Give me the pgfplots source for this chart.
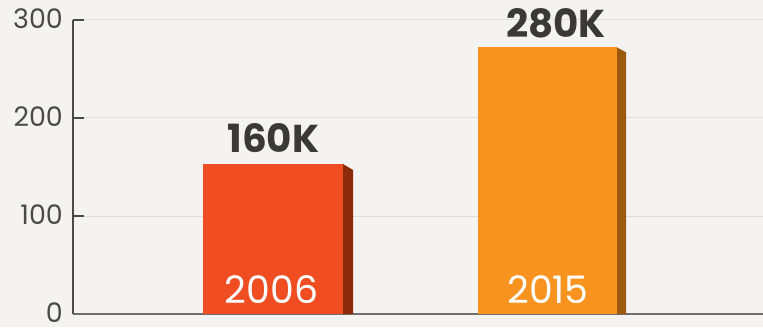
\documentclass[border=0pt]{standalone}
\usepackage{pgfplots}
\pgfplotsset{compat=1.18}
\usepackage{fontspec}
\setmainfont{Poppins}
\definecolor{bg}{HTML}{F4F3F1}
\definecolor{barA}{HTML}{F04E22}
\definecolor{sideA}{HTML}{8E2A0C}
\definecolor{barB}{HTML}{F7931E}
\definecolor{sideB}{HTML}{9B5A0E}
\definecolor{txt}{HTML}{3B3838}
\definecolor{ticktxt}{HTML}{4A4A4A}
\definecolor{gridc}{HTML}{DEDEDC}
\begin{document}
\begin{tikzpicture}[x=1bp,y=1bp]
\fill[bg] (0,0) rectangle (763,327);
\useasboundingbox (0,0) rectangle (763,327);
\begin{axis}[
  at={(73bp,13bp)}, anchor=south west,
  scale only axis, width=690bp, height=294bp,
  xmin=0, xmax=690, ymin=0, ymax=300,
  clip=false,
  axis x line*=bottom, axis y line*=left,
  x axis line style={draw=ticktxt!80, line width=2bp},
  y axis line style={draw=ticktxt, line width=2bp},
  xtick=\empty,
  ytick={0,100,200,300},
  tick align=inside,
  major tick length=11bp,
  tick style={draw=ticktxt, line width=2bp},
  ymajorgrids,
  grid style={draw=gridc, line width=1bp},
  /pgf/number format/assume math mode=true,
  yticklabel style={font=\fontsize{27}{27}\selectfont, color=ticktxt, inner sep=0pt, xshift=-10bp, yshift=1bp},
]
\addplot[ybar, bar width=140, bar shift=0pt, fill=barA, draw=none] coordinates {(200,153)};
\addplot[fill=sideA, draw=none] coordinates {(270,0) (270,153) (280,147) (280,0)};
\addplot[ybar, bar width=139, bar shift=0pt, fill=barB, draw=none] coordinates {(474.5,272)};
\addplot[fill=sideB, draw=none] coordinates {(544,0) (544,272) (553,267) (553,0)};
\node[anchor=base, font=\fontsize{39}{39}\selectfont\bfseries, color=txt, inner sep=0pt] at (axis cs:200.5,165) {160K};
\node[anchor=base, font=\fontsize{39}{39}\selectfont\bfseries, color=txt, inner sep=0pt] at (axis cs:483,282) {280K};
\node[anchor=base, font=\fontsize{38}{38}\selectfont, color=white, inner sep=0pt] at (axis cs:198.5,11) {2006};
\node[anchor=base, font=\fontsize{38}{38}\selectfont, color=white, inner sep=0pt] at (axis cs:475,11) {2015};
\end{axis}
\end{tikzpicture}
\end{document}
